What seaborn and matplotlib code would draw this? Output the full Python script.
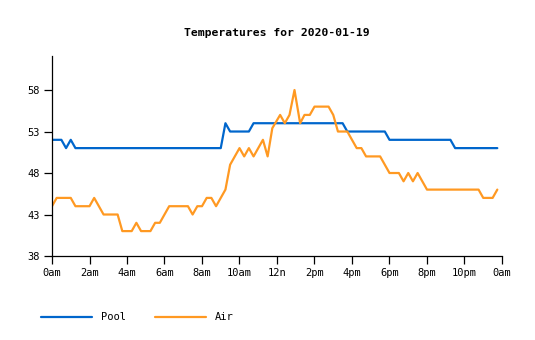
import matplotlib
matplotlib.use("Agg")
import matplotlib.pyplot as plt
import seaborn as sns
import pandas as pd
from matplotlib.lines import Line2D

# ---- data ----
pool_times = ["00:00", "00:30", "00:45", "01:00", "01:15", "09:00", "09:15", "09:30",
              "10:30", "10:45", "15:30", "15:45", "17:45", "18:00", "21:15", "21:30", "23:45"]
pool_temps = [52, 52, 51, 52, 51, 51, 54, 53, 53, 54, 54, 53, 53, 52, 52, 51, 51]

air_times = ["00:00", "00:15", "01:00", "01:15", "02:00", "02:15", "02:45", "03:30", "03:45",
             "04:15", "04:30", "04:45", "05:15", "05:30", "05:45", "06:15", "07:15", "07:30",
             "07:45", "08:00", "08:15", "08:30", "08:45", "09:00", "09:15", "09:30", "09:45",
             "10:00", "10:15", "10:30", "10:45", "11:15", "11:30", "11:45", "12:10", "12:25",
             "12:40", "12:56", "13:14", "13:28", "13:45", "14:00", "14:45", "15:00", "15:15",
             "15:45", "16:00", "16:15", "16:30", "16:45", "17:30", "17:45", "18:00", "18:30",
             "18:45", "19:00", "19:15", "19:30", "19:45", "20:00", "22:45", "23:00", "23:30",
             "23:45"]
air_temps = [44, 45, 45, 44, 44, 45, 43, 43, 41,
             41, 42, 41, 41, 42, 42, 44, 44, 43,
             44, 44, 45, 45, 44, 45, 46, 49, 50,
             51, 50, 51, 50, 52, 50, 53.4, 55, 54,
             55, 58, 54, 55, 55, 56, 56, 55, 53,
             53, 52, 51, 51, 50, 50, 49, 48, 48,
             47, 48, 47, 48, 47, 46, 46, 45, 45,
             46]

series_names = ["Pool", "Air"]
series_colors = ["#0066cc", "#ff9922"]
x_tick_hours = [0, 2, 4, 6, 8, 10, 12, 14, 16, 18, 20, 22, 24]
x_tick_labels = ["0am", "2am", "4am", "6am", "8am", "10am", "12n",
                 "2pm", "4pm", "6pm", "8pm", "10pm", "0am"]
y_ticks = [38, 43, 48, 53, 58]
title = "Temperatures for 2020-01-19"


def to_hours(t):
    h, m = t.split(":")
    return int(h) + int(m) / 60.0


df = pd.concat([
    pd.DataFrame({"hour": [to_hours(t) for t in pool_times], "temp": pool_temps, "series": "Pool"}),
    pd.DataFrame({"hour": [to_hours(t) for t in air_times], "temp": air_temps, "series": "Air"}),
], ignore_index=True)

sns.set_style("ticks")
plt.rcParams["font.family"] = ["DejaVu Sans Mono", "DejaVu Sans"]
plt.rcParams["text.color"] = "black"

fig = plt.figure(figsize=(5.35, 3.4), dpi=100)
ax = fig.add_axes([52 / 535, 1 - 256 / 340, 450 / 535, 200 / 340])

sns.lineplot(data=df, x="hour", y="temp", hue="series", hue_order=series_names,
             palette=dict(zip(series_names, series_colors)), ax=ax,
             linewidth=1.6, estimator=None, sort=True, legend=False)

ax.set_xlim(0, 24)
ax.set_ylim(38, 62.1)
ax.set_xticks(x_tick_hours)
ax.set_xticklabels(x_tick_labels)
ax.set_yticks(y_ticks)
ax.set_xlabel("")
ax.set_ylabel("")
for s in ["top", "right"]:
    ax.spines[s].set_visible(False)
for s in ["left", "bottom"]:
    ax.spines[s].set_linewidth(0.9)
    ax.spines[s].set_color("black")
ax.tick_params(axis="both", length=6, width=0.9, color="black", labelsize=7.5,
               labelcolor="black", pad=3)
ax.set_title(title, fontsize=8.2, fontweight="bold", pad=14.5, color="black")

handles = [Line2D([0], [0], color=c, linewidth=1.6) for c in series_colors]
leg = fig.legend(handles, series_names, loc="center left", bbox_to_anchor=(0.076, 0.067),
                 ncol=2, frameon=False, fontsize=7.5, handlelength=4.9, handletextpad=0.85,
                 columnspacing=2.8, borderaxespad=0, borderpad=0)
for t in leg.get_texts():
    t.set_color("black")

fig.savefig("out.png", dpi=100)
